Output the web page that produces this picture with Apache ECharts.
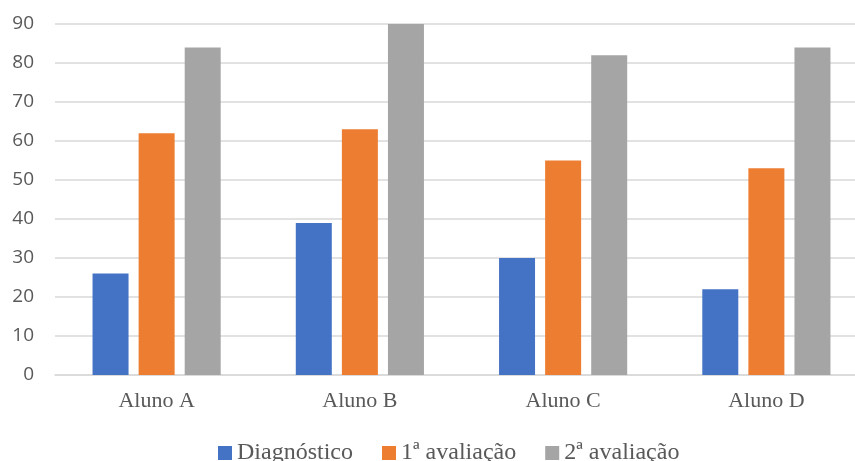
<!DOCTYPE html>
<html>
<head>
<meta charset="utf-8">
<script src="https://cdn.jsdelivr.net/npm/echarts@6/dist/echarts.min.js"></script>
<style>
  html, body { margin: 0; padding: 0; background: #fff; }
  #main { width: 855px; height: 461px; }
</style>
</head>
<body>
<div id="main"></div>
<script>
const categories = ['Aluno A', 'Aluno B', 'Aluno C', 'Aluno D'];
const diagnostico = [26, 39, 30, 22];
const avaliacao1 = [62, 63, 55, 53];
const avaliacao2 = [84, 90, 82, 84];
const seriesNames = ['Diagnóstico', '1ª avaliação', '2ª avaliação'];

const myChart = echarts.init(document.getElementById('main'));
const serif = 'Liberation Serif';

function bar(name, data, color) {
  return {
    name: name,
    type: 'bar',
    data: data,
    barWidth: 36,
    barGap: '28%',
    itemStyle: { color: color },
    emphasis: { disabled: true }
  };
}

myChart.setOption({
  backgroundColor: '#fff',
  animation: false,
  grid: { left: 55, top: 24, width: 813, height: 351, containLabel: false, outerBoundsMode: 'none' },
  legend: {
    top: 436,
    left: 213,
    itemWidth: 14,
    itemHeight: 14,
    itemGap: 29,
    icon: 'rect',
    textStyle: { fontFamily: serif, fontSize: 24, color: '#595959' },
    data: seriesNames
  },
  xAxis: {
    type: 'category',
    data: categories,
    axisLine: { lineStyle: { color: '#d9d9d9', width: 1.5 } },
    axisTick: { show: false },
    axisLabel: { fontFamily: serif, fontSize: 22, color: '#595959', margin: 15 }
  },
  yAxis: {
    type: 'value',
    min: 0,
    max: 90,
    interval: 10,
    axisLine: { show: false },
    axisTick: { show: false },
    splitLine: { lineStyle: { color: '#d9d9d9', width: 1.5 } },
    axisLabel: { fontFamily: 'Open Sans', fontSize: 19, color: '#595959', margin: 21 }
  },
  series: [
    bar(seriesNames[0], diagnostico, '#4472C4'),
    bar(seriesNames[1], avaliacao1, '#ED7D31'),
    bar(seriesNames[2], avaliacao2, '#A5A5A5')
  ]
});
</script>
</body>
</html>
